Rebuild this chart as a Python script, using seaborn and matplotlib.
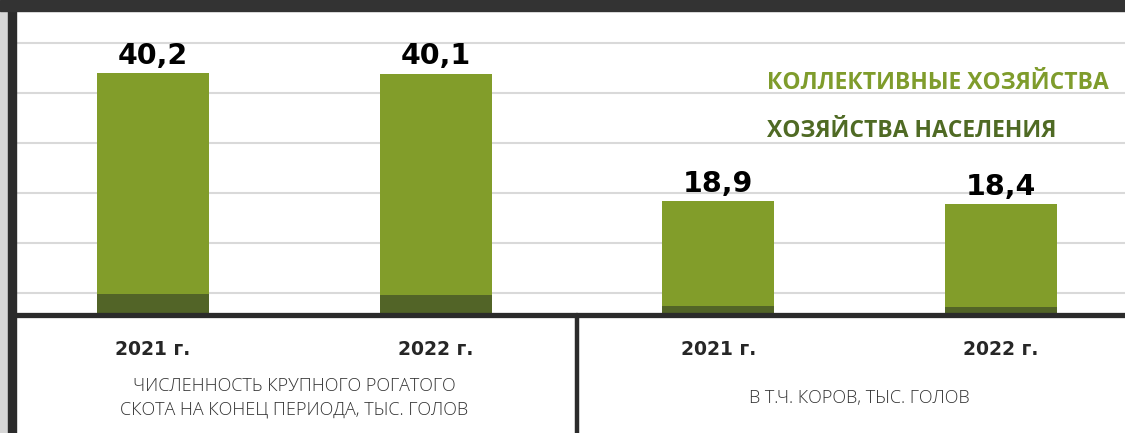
import numpy as np
import pandas as pd
import matplotlib
matplotlib.use('Agg')
import matplotlib.pyplot as plt
import matplotlib.transforms as mtransforms
from matplotlib.patches import Rectangle
from matplotlib.lines import Line2D
import seaborn as sns

# Daten: Krupny rogaty skot und Kuehe, 2021/2022 (tys. golov)
bar_keys = ['КРС 2021', 'КРС 2022', 'Коровы 2021', 'Коровы 2022']
year_labels = ['2021 г.', '2022 г.', '2021 г.', '2022 г.']
totals = [40.2, 40.1, 18.9, 18.4]
households = [3.5, 3.3, 1.5, 1.4]   # хозяйства населения (nur geschaetzt)
group_labels = ['ЧИСЛЕННОСТЬ КРУПНОГО РОГАТОГО\nСКОТА НА КОНЕЦ ПЕРИОДА, ТЫС. ГОЛОВ',
                'В Т.Ч. КОРОВ, ТЫС. ГОЛОВ']
legend_labels = ['КОЛЛЕКТИВНЫЕ ХОЗЯЙСТВА', 'ХОЗЯЙСТВА НАСЕЛЕНИЯ']
grid_levels = [3.65, 11.95, 20.25, 28.55, 36.85, 45.15]

LIGHT = '#829d2a'
DARK = '#526427'
LEGEND_LIGHT = '#7f9c2c'
LEGEND_DARK = '#4f6a24'
FRAME = '#2b2b2b'

sns.set_style('white')
plt.rcParams['font.family'] = ['DejaVu Sans']

W, H = 1125, 433
fig = plt.figure(figsize=(W / 100, H / 100), dpi=100)
fig.patch.set_facecolor('white')

# Rahmen und Streifen
fig.patches.append(Rectangle((0, 0), 7 / W, 1, transform=fig.transFigure,
                             color='#d6d6d6', zorder=0))
fig.patches.append(Rectangle((8 / W, 0), 8 / W, 1, transform=fig.transFigure,
                             color=FRAME, zorder=5))
fig.patches.append(Rectangle((0, 1 - 11 / H), 1, 11 / H, transform=fig.transFigure,
                             color='#333333', zorder=5))

ax = fig.add_axes([16 / W, (H - 315) / H, (W - 16) / W, (315 - 11) / H])
df = pd.DataFrame({'key': bar_keys, 'total': totals, 'households': households})

sns.barplot(data=df, x='key', y='total', color=LIGHT, saturation=1,
            width=0.396, errorbar=None, linewidth=0, edgecolor='none', ax=ax)
sns.barplot(data=df, x='key', y='households', color=DARK, saturation=1,
            width=0.396, errorbar=None, linewidth=0, edgecolor='none', ax=ax)

ax.set_xlim(-0.485, 3.44)
ax.set_ylim(0, 50.5)
ax.set_yticks(grid_levels)
ax.set_axisbelow(True)
ax.grid(axis='y', color='#d9d9d9', linewidth=1.5)
ax.tick_params(length=0)
ax.set_xticklabels([])
ax.set_yticklabels([])
ax.set_xlabel('')
ax.set_ylabel('')
for s in ax.spines.values():
    s.set_visible(False)

# Werte ueber den Balken
ax.bar_label(ax.containers[0], labels=[f'{v:.1f}'.replace('.', ',') for v in totals],
             padding=2.5, fontsize=20.5, fontweight='bold', color='black')

# Grundlinie und Trenner unten
ax.axhline(0, color=FRAME, linewidth=3.8, clip_on=False, zorder=6)
trans = mtransforms.blended_transform_factory(ax.transData, ax.transAxes)
ax.add_line(Line2D([1.5, 1.5], [0, -0.45], transform=trans, color=FRAME,
                   linewidth=3.2, clip_on=False))

# Jahre und Gruppenbeschriftung
for i, yr in enumerate(year_labels):
    ax.text(i, -0.113, yr, transform=trans, ha='center', va='center',
            fontsize=13.5, fontweight='bold', color='#262626')
for i, lab in enumerate(group_labels):
    ax.text(2 * i + 0.5, -0.272, lab, transform=trans, ha='center', va='center',
            fontsize=13, color='#333333', linespacing=1.4,
            family=['Open Sans', 'DejaVu Sans'], fontweight='light')

# Legende als Text
for lab, col, yy in zip(legend_labels, [LEGEND_LIGHT, LEGEND_DARK], [0.763, 0.605]):
    ax.text(0.677, yy, lab, transform=ax.transAxes, ha='left', va='center',
            fontsize=16.5, fontweight='bold', color=col,
            family=['Open Sans', 'DejaVu Sans'])

fig.savefig('out.png', dpi=100)
